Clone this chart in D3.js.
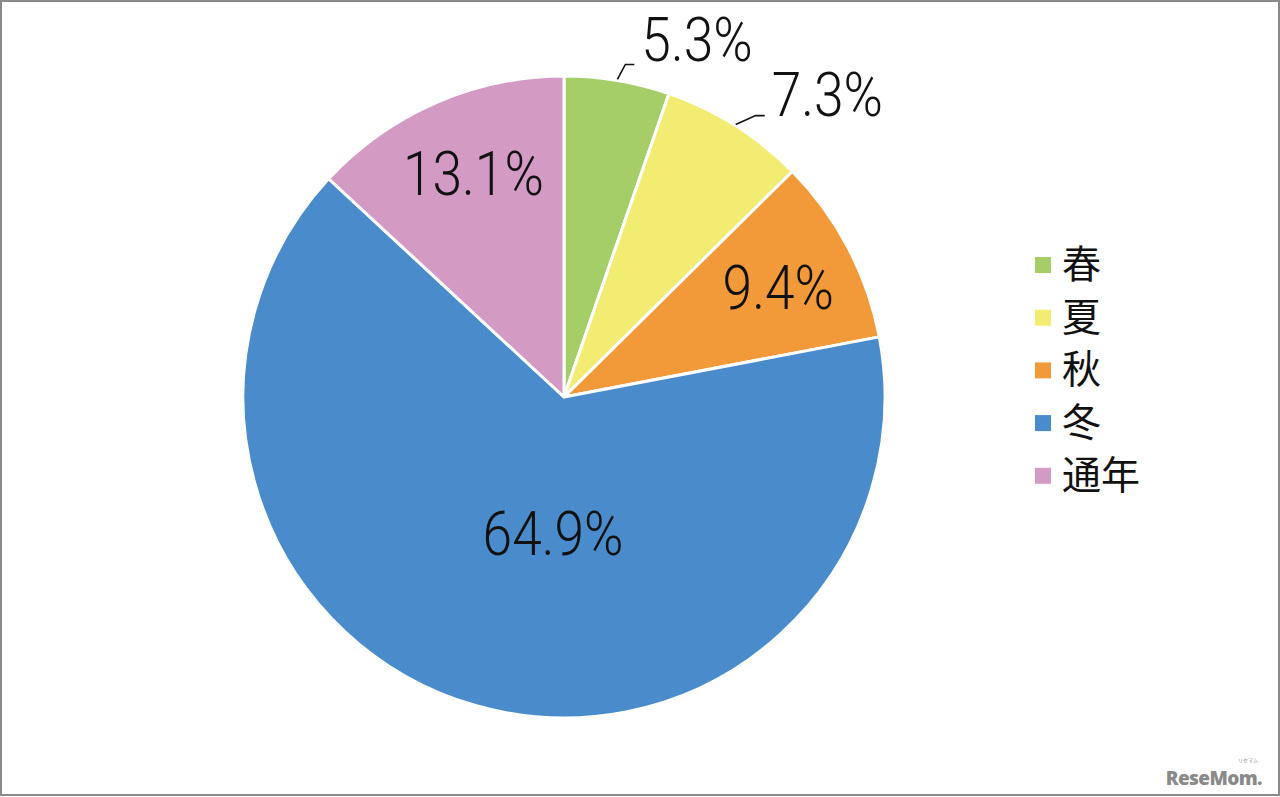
<!DOCTYPE html>
<html>
<head>
<meta charset="utf-8">
<script src="https://cdn.jsdelivr.net/npm/d3@7"></script>
<style>
  body { margin: 0; background: #fff; }
  svg { display: block; }
</style>
</head>
<body>
<div class="chart"></div>
<script>
const seasons = ["春", "夏", "秋", "冬", "通年"];
const shares = [5.3, 7.3, 9.4, 64.9, 13.1];
const colors = ["#a5cd68", "#f2ec72", "#f2993a", "#4a8ccb", "#d39bc4"];

const width = 1280, height = 797;
const cx = 564, cy = 397, radius = 321;

// label placement: fraction of radius (0 = outside with leader line), plus a small x nudge
const labelRadius = [0, 0, 0.74, 0.44, 0.76];
const labelNudge = [0, 0, 4, 28, 7];
// leader elbow offsets from the slice edge for the outside labels
const leaderRun = [8, 20];
const leaderRise = [15, 9];

let svg = d3.select(".chart").append("svg")
  .attr("width", width)
  .attr("height", height);

svg.append("rect")
  .attr("x", 1).attr("y", 1)
  .attr("width", width - 2).attr("height", height - 3)
  .attr("fill", "#fff")
  .attr("stroke", "#8a8a8a")
  .attr("stroke-width", 2);

let pie = d3.pie().sort(null).value((d) => d);
let arcs = pie(shares);
let arc = d3.arc().innerRadius(0).outerRadius(radius);

let g = svg.append("g").attr("transform", "translate(" + cx + "," + cy + ")");

g.selectAll(".slice")
  .data(arcs)
  .enter().append("path")
    .attr("class", "slice")
    .attr("d", arc)
    .attr("fill", (d, i) => colors[i])
    .attr("stroke", "#fff")
    .attr("stroke-width", 3)
    .attr("stroke-linejoin", "round");

function polar(a, r) {
  return [Math.sin(a) * r, -Math.cos(a) * r];
}

function leader(d, i) {
  let mid = (d.startAngle + d.endAngle) / 2;
  let p0 = polar(mid, radius + 1);
  let p1 = [p0[0] + leaderRun[i], p0[1] - leaderRise[i]];
  let p2 = [p1[0] + 9, p1[1]];
  return [p0, p1, p2];
}

function labelPos(d, i) {
  if (labelRadius[i] > 0) {
    let mid = (d.startAngle + d.endAngle) / 2;
    let p = polar(mid, radius * labelRadius[i]);
    return { x: p[0] + labelNudge[i], y: p[1] + 22, anchor: "middle" };
  }
  let p2 = leader(d, i)[2];
  return { x: p2[0] + 7, y: p2[1] - 3 + i * 3, anchor: "start" };
}

// leader lines for the two small slices
arcs.forEach((d, i) => {
  if (labelRadius[i] > 0) return;
  g.append("path")
    .attr("d", "M" + leader(d, i).join("L"))
    .attr("fill", "none")
    .attr("stroke", "#111")
    .attr("stroke-width", 1.6);
});

g.selectAll(".lbl")
  .data(arcs)
  .enter().append("text")
    .attr("class", "lbl")
    .attr("transform", (d, i) => {
      let p = labelPos(d, i);
      return "translate(" + p.x + "," + p.y + ") scale(0.86,1)";
    })
    .attr("text-anchor", (d, i) => labelPos(d, i).anchor)
    .attr("font-family", "Roboto, 'Liberation Sans', sans-serif")
    .attr("font-weight", 300)
    .attr("font-size", 62)
    .attr("fill", "#111")
    .text((d) => d.data.toFixed(1) + "%");

// legend
let legend = svg.append("g").attr("transform", "translate(1035,265)");
let item = legend.selectAll(".item")
  .data(seasons)
  .enter().append("g")
    .attr("class", "item")
    .attr("transform", (d, i) => "translate(0," + i * 52.7 + ")");

item.append("rect")
  .attr("x", 0).attr("y", -8)
  .attr("width", 16).attr("height", 16)
  .attr("fill", (d, i) => colors[i]);

item.append("text")
  .attr("x", 27).attr("y", 13)
  .attr("font-family", "'Noto Sans CJK JP', sans-serif")
  .attr("font-size", 39)
  .attr("fill", "#111")
  .text((d) => d);

// watermark
svg.append("text")
  .attr("x", 1262).attr("y", 785)
  .attr("text-anchor", "end")
  .attr("font-family", "'Open Sans', sans-serif")
  .attr("font-weight", 800)
  .attr("font-size", 19)
  .attr("letter-spacing", -0.6)
  .attr("fill", "#8a8a8a")
  .text("ReseMom.");
svg.append("text")
  .attr("x", 1258).attr("y", 762)
  .attr("text-anchor", "end")
  .attr("font-family", "'Noto Sans CJK JP', sans-serif")
  .attr("font-size", 5)
  .attr("fill", "#8a8a8a")
  .text("リセマム");
</script>
</body>
</html>
